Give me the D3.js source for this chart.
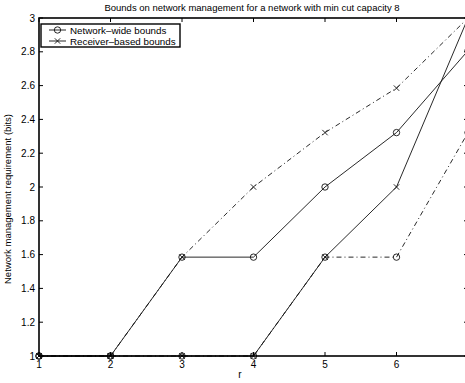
<!doctype html>
<html>
<head>
    <style>
        body { margin: 0; background: #fff; }
        text { font-family: 'Liberation Sans', Arial, sans-serif; fill: #000; }
    </style>
    <script src="https://d3js.org/d3.v7.min.js"></script>
</head>
<body>
    <script>
        // data (log2 values)
        var r = [1, 2, 3, 4, 5, 6, 7];
        var networkWideSolid = [1, 1, 1.585, 1.585, 2, 2.322, 2.807];
        var networkWideDash = [1, 1, 1, 1, 1.585, 1.585, 2.322];
        var receiverSolid = [1, 1, 1, 1, 1.585, 2, 3];
        var receiverDash = [1, 1, 1.585, 2, 2.322, 2.585, 3];
        var xTicks = [1, 2, 3, 4, 5, 6, 7];
        var xTickLabels = ["1", "2", "3", "4", "5", "6", ""];
        var yTicks = [1, 1.2, 1.4, 1.6, 1.8, 2, 2.2, 2.4, 2.6, 2.8, 3];
        var legendLabels = ["Network\u2013wide bounds", "Receiver\u2013based bounds"];

        var W = 465, H = 383;
        var m = {left: 39, right: 468, top: 18, bottom: 356};

        var svg = d3.select("body").append("svg").attr("width", W).attr("height", H);

        var x = d3.scaleLinear().domain([1, 7]).range([m.left, m.right]);
        var y = d3.scaleLinear().domain([1, 3]).range([m.bottom, m.top]);

        var series = [
            {vals: networkWideSolid, dash: null, mark: "o"},
            {vals: networkWideDash, dash: "5,3,1,3", mark: "o"},
            {vals: receiverSolid, dash: null, mark: "x"},
            {vals: receiverDash, dash: "5,3,1,3", mark: "x"}
        ];

        var line = d3.line().x(function(d, i) { return x(r[i]); }).y(function(d) { return y(d); });

        series.forEach(function(s) {
            svg.append("path")
                .attr("d", line(s.vals))
                .attr("fill", "none")
                .attr("stroke", "#111")
                .attr("stroke-width", 0.9)
                .attr("stroke-dasharray", s.dash);
        });

        function drawMarker(g, cx, cy, type) {
            if (type === "o") {
                g.append("circle").attr("cx", cx).attr("cy", cy).attr("r", 3.2)
                    .attr("fill", "none").attr("stroke", "#111").attr("stroke-width", 0.9);
            } else {
                var s = 2.7;
                g.append("path")
                    .attr("d", "M" + (cx - s) + "," + (cy - s) + "L" + (cx + s) + "," + (cy + s) +
                               "M" + (cx - s) + "," + (cy + s) + "L" + (cx + s) + "," + (cy - s))
                    .attr("stroke", "#111").attr("stroke-width", 0.9);
            }
        }

        var marks = svg.append("g");
        series.forEach(function(s) {
            s.vals.forEach(function(v, i) {
                drawMarker(marks, x(r[i]), y(v), s.mark);
            });
        });

        // axes box
        var ax = svg.append("g");
        ax.append("rect")
            .attr("x", m.left).attr("y", m.top)
            .attr("width", m.right - m.left).attr("height", m.bottom - m.top)
            .attr("fill", "none").attr("stroke", "#000").attr("stroke-width", 1.6);

        var tl = 4;
        xTicks.forEach(function(t, i) {
            ax.append("line").attr("x1", x(t)).attr("x2", x(t)).attr("y1", m.bottom).attr("y2", m.bottom - tl).attr("stroke", "#000");
            ax.append("line").attr("x1", x(t)).attr("x2", x(t)).attr("y1", m.top).attr("y2", m.top + tl).attr("stroke", "#000");
            ax.append("text").attr("x", x(t)).attr("y", m.bottom + 12)
                .attr("text-anchor", "middle").style("font-size", "10px").text(xTickLabels[i]);
        });
        yTicks.forEach(function(t) {
            ax.append("line").attr("x1", m.left).attr("x2", m.left + tl).attr("y1", y(t)).attr("y2", y(t)).attr("stroke", "#000");
            ax.append("line").attr("x1", m.right).attr("x2", m.right - tl).attr("y1", y(t)).attr("y2", y(t)).attr("stroke", "#000");
            ax.append("text").attr("x", m.left - 4).attr("y", y(t) + 3.5)
                .attr("text-anchor", "end").style("font-size", "10px").text(d3.format("~g")(t));
        });

        svg.append("text").attr("x", 252).attr("y", 11).attr("text-anchor", "middle")
            .style("font-size", "9.5px").text("Bounds on network management for a network with min cut capacity 8");
        svg.append("text").attr("x", 240).attr("y", 378).attr("text-anchor", "middle")
            .style("font-size", "10px").text("r");
        svg.append("text").attr("transform", "translate(11," + ((m.top + m.bottom) / 2 + 12) + ") rotate(-90)")
            .attr("text-anchor", "middle").style("font-size", "9.5px")
            .text("Network management requirement (bits)");

        // legend
        var lg = svg.append("g");
        lg.append("rect").attr("x", 41).attr("y", 24).attr("width", 139).attr("height", 23)
            .attr("fill", "#fff").attr("stroke", "#000").attr("stroke-width", 1.4);
        legendLabels.forEach(function(lab, i) {
            var ly = 30 + i * 11;
            lg.append("line").attr("x1", 49).attr("x2", 66).attr("y1", ly).attr("y2", ly)
                .attr("stroke", "#111").attr("stroke-width", 0.9);
            drawMarker(lg, 57.5, ly, i === 0 ? "o" : "x");
            lg.append("text").attr("x", 70).attr("y", ly + 3.5).style("font-size", "9.8px").text(lab);
        });
    </script>
</body>
</html>
